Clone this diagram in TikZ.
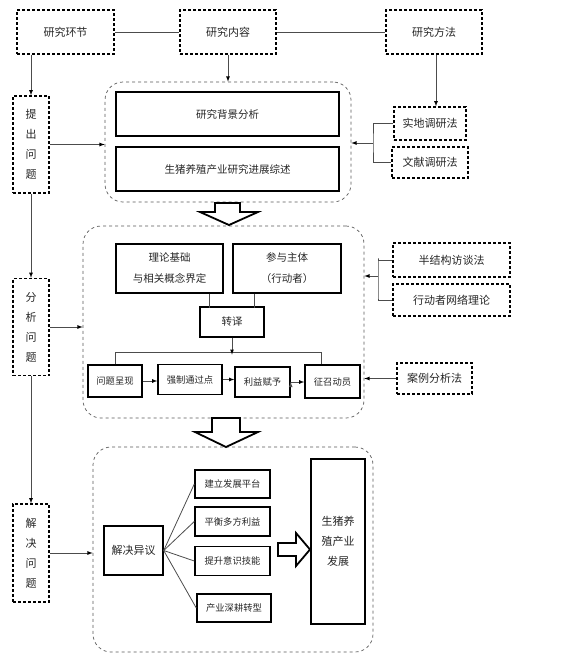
\documentclass[tikz,border=0pt]{standalone}
\usepackage{fontspec}
\newfontfamily\cjk{Noto Sans CJK SC}
\usetikzlibrary{arrows, calc, positioning}

\begin{document}
\begin{tikzpicture}[>=latex, x=1pt, y=-1pt, font=\cjk]
	\tikzstyle{dbox} = [draw, line width=1.4pt, dash pattern=on 3pt off 2pt, inner sep=0pt, align=center, text=black!85, font=\cjk\fontsize{11}{20}\selectfont]
	\tikzstyle{sbox} = [draw, line width=1.4pt, inner sep=0pt, align=center, text=black!85, font=\cjk\fontsize{10.5}{21}\selectfont]
	\tikzstyle{small} = [font=\cjk\fontsize{9.3}{12}\selectfont]
	\tikzstyle{group} = [draw=black!65, dashed, line width=0.7pt, rounded corners=18pt, inner sep=0pt]
	\tikzstyle{link} = [draw=black!70, line width=0.8pt]
	\tikzstyle{hollow} = [draw, line width=1.8pt, fill=white]

	\useasboundingbox (0,0) rectangle (575,657);

	% top row
	\node[dbox, minimum width=97, minimum height=44] (yj) at (65.5,32) {研究环节};
	\node[dbox, minimum width=96, minimum height=44] (nr) at (228,32) {研究内容};
	\node[dbox, minimum width=96, minimum height=44] (ff) at (434,32) {研究方法};

	% left column
	\node[dbox, minimum width=36, minimum height=97] (tc) at (31,144.5) {提\\出\\问\\题};
	\node[dbox, minimum width=36, minimum height=97] (fx) at (31,327) {分\\析\\问\\题};
	\node[dbox, minimum width=36, minimum height=98] (jj) at (31,553) {解\\决\\问\\题};

	% first part
	\node[group, minimum width=246, minimum height=120] (g1) at (228,142) {};
	\node[sbox, minimum width=223, minimum height=44] (bj) at (227.5,114) {研究背景分析};
	\node[sbox, minimum width=223, minimum height=44] (zs) at (227.5,169) {生猪养殖产业研究进展综述};
	\node[dbox, minimum width=72, minimum height=33] (sd) at (430,123.5) {实地调研法};
	\node[dbox, minimum width=76, minimum height=31] (wx) at (430,162.5) {文献调研法};
	\coordinate (b1) at (373,143);

	% second part
	\node[group, minimum width=281, minimum height=192] (g2) at (223.5,322) {};
	\node[sbox, minimum width=107, minimum height=49] (ll) at (169.5,268.5) {理论基础\\与相关概念界定};
	\node[sbox, minimum width=108, minimum height=49] (zt) at (287,268.5) {参与主体\\（行动者）};
	\node[sbox, minimum width=64, minimum height=30] (zy) at (232,322) {转译};
	\node[sbox, small, minimum width=54, minimum height=32] (wt) at (115,381) {问题呈现};
	\node[sbox, small, minimum width=64, minimum height=30] (qz) at (190,379.5) {强制通过点};
	\node[sbox, small, minimum width=55, minimum height=30] (ly) at (262.5,382) {利益赋予};
	\node[sbox, small, minimum width=55, minimum height=33] (zm) at (332.5,381.5) {征召动员};
	\node[dbox, minimum width=117, minimum height=34] (bjg) at (451.5,260) {半结构访谈法};
	\node[dbox, minimum width=117, minimum height=32] (xw) at (451.5,300) {行动者网络理论};
	\node[dbox, minimum width=75, minimum height=31] (al) at (434.5,378.5) {案例分析法};
	\coordinate (b2) at (378,276);

	% third part
	\node[group, minimum width=280, minimum height=205] (g3) at (233,549.5) {};
	\node[sbox, font=\cjk\fontsize{11}{20}\selectfont, minimum width=59, minimum height=49] (jy) at (133.5,550.5) {解决异议};
	\node[sbox, small, minimum width=75, minimum height=28] (p1) at (232.5,484) {建立发展平台};
	\node[sbox, small, minimum width=75, minimum height=29] (p2) at (232.5,521.5) {平衡多方利益};
	\node[sbox, small, minimum width=75, minimum height=29] (p3) at (232.5,561) {提升意识技能};
	\node[sbox, small, minimum width=74, minimum height=28] (p4) at (234,608) {产业深耕转型};
	\node[sbox, font=\cjk\fontsize{11}{20}\selectfont, minimum width=54, minimum height=165] (fz) at (338,541.5) {生猪养\\殖产业\\发展};

	% connectors
	\path[link]
		(yj) edge (nr)
		(nr) edge (ff)
		(ll.south -| zy.north west) ++(10,0) edge ++(0,14)
		(zt.south -| zy.north east) ++(-10,0) edge ++(0,14)
		(jy.east) edge (p1.west)
		(jy.east) edge (p2.west)
		(jy.east) edge (p3.west)
		(jy.east) edge (p4.west)
	;
	\draw[link] (sd.west) -| (b1) |- (wx.west);
	\draw[link] (bjg.west) -| ($(b2)+(0,-18)$) -- ($(b2)+(0,22)$) |- (xw.west);
	\draw[link] (wt.north) -- ++(0,-12) -| ([xshift=-11.5pt]zm.north);

	\path[->, link]
		(tc.north |- yj.south) edge (tc.north)
		(tc.south) edge (fx.north)
		(fx.south) edge (jj.north)
		(nr.south) edge (g1.north)
		(ff.south -| 436,0) edge (sd.north -| 436,0)
		(tc.east) edge (tc.east -| g1.west)
		(b1) edge (b1 -| g1.east)
		(fx.east) edge (fx.east -| g2.west)
		(b2) edge (b2 -| g2.east)
		(al.west) edge (al.west -| g2.east)
		(jj.east) edge (jj.east -| g3.west)
		(zy.south) edge ++(0,17)
		(wt.east) edge (wt.east -| qz.west)
		(qz.east) edge (qz.east -| ly.west)
		(ly.east) edge (ly.east -| zm.west)
	;

	% hollow arrows
	\draw[hollow] (215,203) -- (240,203) -- (240,212) -- (258,212) -- (229,225) -- (200,212) -- (215,212) -- cycle;
	\draw[hollow] (212,418) -- (240,418) -- (240,432) -- (258,432) -- (226,447) -- (195,432) -- (212,432) -- cycle;
	\draw[hollow] (278,543) -- (296,543) -- (296,533) -- (310,549.5) -- (296,566) -- (296,556) -- (278,556) -- cycle;
\end{tikzpicture}
\end{document}
